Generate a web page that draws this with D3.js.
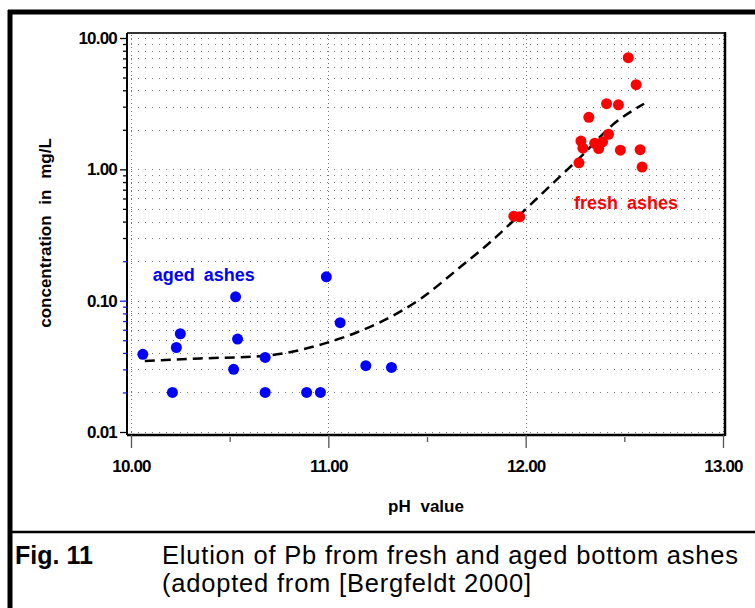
<!DOCTYPE html>
<html>
<head>
<meta charset="utf-8">
<script src="https://cdn.jsdelivr.net/npm/d3@7"></script>
<style>
  body { margin: 0; background: #fff; }
  svg { display: block; }
  svg text { font-family: "Liberation Sans", Arial, sans-serif; }
</style>
</head>
<body>
<div id="chart"></div>
<script>
// aged ashes (blue)
const agedPH = [10.06, 10.21, 10.23, 10.25, 10.53, 10.54, 10.52, 10.68, 10.68, 10.89, 10.96, 10.99, 11.06, 11.19, 11.32];
const agedConc = [0.039, 0.020, 0.044, 0.056, 0.107, 0.051, 0.030, 0.037, 0.020, 0.020, 0.020, 0.152, 0.068, 0.032, 0.031];

// fresh ashes (red)
const freshPH = [12.52, 12.56, 12.41, 12.47, 12.32, 12.28, 12.29, 12.35, 12.37, 12.39, 12.42, 12.48, 12.58, 12.59, 12.27, 11.94, 11.97];
const freshConc = [7.08, 4.41, 3.16, 3.10, 2.49, 1.64, 1.45, 1.58, 1.44, 1.62, 1.85, 1.40, 1.41, 1.04, 1.12, 0.44, 0.435];

// dashed fit curve
const fitPH = [10.07, 10.35, 10.68, 10.79, 10.97, 11.14, 11.25, 11.47, 11.67, 11.81, 11.96, 12.12, 12.28, 12.45, 12.60];
const fitConc = [0.0347, 0.0363, 0.038, 0.0401, 0.0467, 0.057, 0.067, 0.104, 0.181, 0.27, 0.436, 0.738, 1.25, 2.24, 3.16];

const xTicks = [10, 11, 12, 13];
const xMinorTicks = [10.5, 11.5, 12.5];

const W = 755, H = 608;
const plot = { left: 127, right: 725, top: 33, bottom: 435 };
const FONT = '"Liberation Sans", Arial, sans-serif';

const svg = d3.select('#chart')
    .append('svg')
    .attr('width', W)
    .attr('height', H);

svg.append('rect').attr('width', W).attr('height', H).attr('fill', '#fff');

const x = d3.scaleLinear().domain([10, 13]).range([131, 723]);
const y = d3.scaleLog().domain([0.01, 10]).range([432, 38]);

const yTicks = y.ticks();
const isMajor = v => Math.abs(Math.log10(v) - Math.round(Math.log10(v))) < 1e-6;

// grid
const grid = svg.append('g')
    .attr('stroke', '#777')
    .attr('stroke-width', 1)
    .attr('stroke-dasharray', '1,6');

grid.selectAll('.hg')
    .data(yTicks)
    .join('line')
    .attr('x1', x(10)).attr('x2', x(13))
    .attr('y1', d => Math.round(y(d)) + 0.5)
    .attr('y2', d => Math.round(y(d)) + 0.5);

grid.selectAll('.vg')
    .data(xTicks)
    .join('line')
    .attr('x1', d => Math.round(x(d)) + 0.5)
    .attr('x2', d => Math.round(x(d)) + 0.5)
    .attr('y1', plot.top + 2).attr('y2', 433)
    .attr('stroke-dasharray', '1,3');

// plot frame
svg.append('line')
    .attr('x1', plot.left).attr('x2', plot.right)
    .attr('y1', plot.top).attr('y2', plot.top)
    .attr('stroke', '#333').attr('stroke-width', 2);
svg.append('line')
    .attr('x1', plot.right).attr('x2', plot.right)
    .attr('y1', plot.top - 1).attr('y2', plot.bottom + 1)
    .attr('stroke', '#000').attr('stroke-width', 2.5);

// y axis
const yAxis = svg.append('g')
    .attr('transform', `translate(${plot.left},0)`)
    .attr('font-family', FONT)
    .call(d3.axisLeft(y)
        .tickValues(yTicks)
        .tickSize(7)
        .tickPadding(3)
        .tickFormat(d => isMajor(d) ? d3.format('.2f')(d) : ''));

yAxis.select('.domain')
    .attr('d', `M0,${plot.top}V${plot.bottom}`)
    .attr('stroke', '#000').attr('stroke-width', 2);
yAxis.selectAll('.tick line')
    .attr('x2', d => isMajor(d) ? -7 : -4)
    .attr('stroke', d => (d > 0.015 && d < 0.25) ? '#1a1aff' : '#000')
    .attr('stroke-width', 1.3);
yAxis.selectAll('.tick text')
    .attr('x', -10)
    .attr('fill', '#000')
    .style('font-family', FONT)
    .style('font-size', '17px')
    .style('font-weight', 'bold')
    .style('letter-spacing', '-0.8px');

// x axis
const xAxis = svg.append('g')
    .attr('transform', `translate(0,${plot.bottom})`)
    .attr('font-family', FONT)
    .call(d3.axisBottom(x)
        .tickValues(xTicks.concat(xMinorTicks))
        .tickSize(13)
        .tickPadding(12)
        .tickFormat(d => xTicks.includes(d) ? d3.format('.2f')(d) : ''));

xAxis.select('.domain')
    .attr('d', `M${plot.left},0H${plot.right}`)
    .attr('stroke', '#000').attr('stroke-width', 2.5);
xAxis.selectAll('.tick line')
    .attr('y1', d => xTicks.includes(d) ? 0 : 2)
    .attr('y2', d => xTicks.includes(d) ? 13 : 7)
    .attr('stroke', '#555')
    .attr('stroke-width', 1.3);
xAxis.selectAll('.tick text')
    .attr('fill', '#000')
    .style('font-family', FONT)
    .style('font-size', '17px')
    .style('font-weight', 'bold')
    .style('letter-spacing', '-0.8px');

// fit line
const line = d3.line()
    .x((d, i) => x(fitPH[i]))
    .y((d, i) => y(fitConc[i]))
    .curve(d3.curveMonotoneX);

svg.append('path')
    .datum(fitPH)
    .attr('fill', 'none')
    .attr('stroke', '#000')
    .attr('stroke-width', 2.5)
    .attr('stroke-dasharray', '10,6')
    .attr('d', line);

// points
svg.append('g')
    .selectAll('circle')
    .data(agedPH)
    .join('circle')
    .attr('cx', d => x(d))
    .attr('cy', (d, i) => y(agedConc[i]))
    .attr('r', 5.5)
    .attr('fill', '#0000ff');

svg.append('g')
    .selectAll('circle')
    .data(freshPH)
    .join('circle')
    .attr('cx', d => x(d))
    .attr('cy', (d, i) => y(freshConc[i]))
    .attr('r', 5.5)
    .attr('fill', '#ff0000');

// series labels
svg.append('text')
    .attr('x', x(10.11))
    .attr('y', y(0.141))
    .attr('fill', '#0000ff')
    .style('font-size', '18px')
    .style('font-weight', 'bold')
    .style('word-spacing', '4px')
    .text('aged ashes');

svg.append('text')
    .attr('x', x(12.245))
    .attr('y', y(0.499))
    .attr('fill', '#ff0000')
    .style('font-size', '18px')
    .style('font-weight', 'bold')
    .style('word-spacing', '4px')
    .text('fresh ashes');

// axis titles
svg.append('text')
    .attr('transform', 'translate(51,233) rotate(-90)')
    .attr('text-anchor', 'middle')
    .style('font-size', '17px')
    .style('font-weight', 'bold')
    .style('word-spacing', '6px')
    .text('concentration in mg/L');

svg.append('text')
    .attr('x', 426)
    .attr('y', 512)
    .attr('text-anchor', 'middle')
    .style('font-size', '17px')
    .style('font-weight', 'bold')
    .style('word-spacing', '5px')
    .text('pH value');

// outer frame
svg.append('line')
    .attr('x1', 8).attr('x2', W).attr('y1', 12).attr('y2', 12)
    .attr('stroke', '#000').attr('stroke-width', 5);
svg.append('line')
    .attr('x1', 10).attr('x2', 10).attr('y1', 10).attr('y2', H)
    .attr('stroke', '#000').attr('stroke-width', 5);
svg.append('line')
    .attr('x1', 10).attr('x2', W).attr('y1', 532).attr('y2', 532)
    .attr('stroke', '#000').attr('stroke-width', 2.5);

// caption
svg.append('text')
    .attr('x', 15).attr('y', 564)
    .style('font-size', '25px')
    .style('font-weight', 'bold')
    .text('Fig. 11');

svg.append('text')
    .attr('x', 162).attr('y', 564)
    .style('font-size', '25.5px')
    .style('letter-spacing', '0.8px')
    .text('Elution of Pb from fresh and aged bottom ashes');

svg.append('text')
    .attr('x', 162).attr('y', 592)
    .style('font-size', '25.5px')
    .style('letter-spacing', '0.8px')
    .text('(adopted from [Bergfeldt 2000]');
</script>
</body>
</html>
